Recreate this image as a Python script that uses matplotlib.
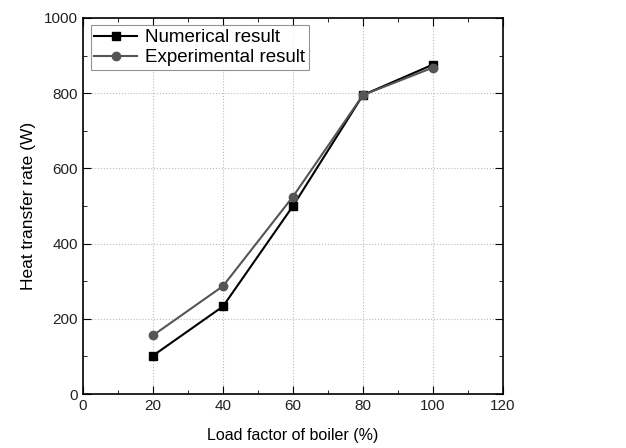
import matplotlib
matplotlib.use('Agg')
import matplotlib.pyplot as plt
from matplotlib.ticker import MultipleLocator

plt.rcParams['font.family'] = ['Liberation Sans', 'DejaVu Sans']

# data
load_factor = [20, 40, 60, 80, 100]
numerical = [102, 233, 500, 795, 876]
experimental = [156, 287, 525, 795, 868]

fig = plt.figure(figsize=(6.26, 4.48), dpi=100)
ax = fig.add_axes([0.1326, 0.1205, 0.6709, 0.8395])

ax.plot(load_factor, numerical, color='black', marker='s', markersize=6,
        linewidth=1.5, label='Numerical result', zorder=3)
ax.plot(load_factor, experimental, color='#555555', marker='o', markersize=6,
        linewidth=1.5, label='Experimental result', zorder=3)

ax.set_xlim(0, 120)
ax.set_ylim(0, 1000)
ax.xaxis.set_major_locator(MultipleLocator(20))
ax.xaxis.set_minor_locator(MultipleLocator(10))
ax.yaxis.set_major_locator(MultipleLocator(200))
ax.yaxis.set_minor_locator(MultipleLocator(100))
ax.tick_params(which='both', direction='in', top=True, right=True,
               labelsize=11, labelcolor='#222222')
ax.tick_params(which='major', length=6)
ax.tick_params(which='minor', length=3)
ax.grid(True, which='major', linestyle=':', color='#bbbbbb', linewidth=0.8)
for s in ax.spines.values():
    s.set_linewidth(1.2)

ax.set_xlabel('Load factor of boiler (%)', fontsize=11.5, labelpad=11)
ax.set_ylabel('Heat transfer rate (W)', fontsize=12.5, labelpad=6)

leg = ax.legend(loc='upper left', fontsize=13.5, frameon=True, fancybox=False,
                edgecolor='#777777', borderpad=0.2, handlelength=2.3,
                handletextpad=0.4, labelspacing=0.15, borderaxespad=0.4)
leg.get_frame().set_linewidth(0.8)

fig.savefig('out.png', dpi=100)
